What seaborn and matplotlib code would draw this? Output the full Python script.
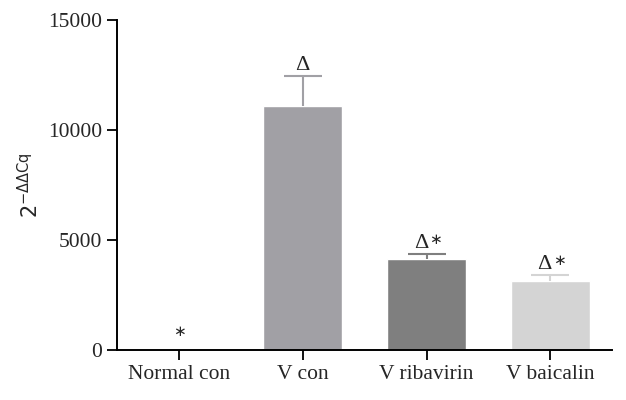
import numpy as np
import pandas as pd
import matplotlib
matplotlib.use("Agg")
import matplotlib.pyplot as plt
import seaborn as sns

groups = ["Normal con", "V con", "V ribavirin", "V baicalin"]
means = [1, 11090, 4140, 3140]
errors = [0, 1360, 220, 270]
deltas = [False, True, True, True]
stars = [True, False, True, True]
colors = ["#ffffff", "#a1a0a5", "#7f7f7f", "#d4d4d4"]

sns.set_style("ticks")
plt.rcParams["font.family"] = ["Liberation Serif", "DejaVu Serif"]
plt.rcParams["mathtext.fontset"] = "dejavusans"

df = pd.DataFrame({"group": groups, "value": means})

fig = plt.figure(figsize=(6.26, 4.0), dpi=100)
ax = fig.add_axes([0.187, 0.125, 0.791, 0.825])

sns.barplot(data=df, x="group", y="value", hue="group", palette=colors,
            legend=False, width=0.64, saturation=1, ax=ax, zorder=2)

# upper-only error bars, same tone as the bar
for i, (m, e, c) in enumerate(zip(means, errors, colors)):
    if e > 0:
        eb = ax.errorbar(i, m, yerr=[[0], [e]], fmt="none", ecolor=c,
                         elinewidth=1.5, capsize=14, capthick=1.5, zorder=3)
        eb[1][0].set_visible(False)
    top = m + e
    if deltas[i] and stars[i]:
        ax.annotate("Δ", (i, top), xytext=(-4, 1), textcoords="offset points",
                    ha="center", va="bottom", fontsize=16)
        ax.annotate("∗", (i, top), xytext=(6.5, 5), textcoords="offset points",
                    ha="center", va="bottom", fontsize=11, family=["DejaVu Sans"])
    elif deltas[i]:
        ax.annotate("Δ", (i, top), xytext=(0, 1), textcoords="offset points",
                    ha="center", va="bottom", fontsize=16)
    else:
        ax.annotate("∗", (i, top), xytext=(0, 8), textcoords="offset points",
                    ha="center", va="bottom", fontsize=11, family=["DejaVu Sans"])

ax.set_xlim(-0.5, 3.5)
ax.set_ylim(0, 15000)
ax.set_yticks([0, 5000, 10000, 15000])
ax.set_xlabel("")
ax.set_ylabel(r"$2^{-\Delta\Delta\mathrm{Cq}}$", fontsize=15, labelpad=4)
ax.tick_params(axis="both", labelsize=15.5, length=7, width=1.3, color="black")
for s in ["left", "bottom"]:
    ax.spines[s].set_linewidth(1.4)
    ax.spines[s].set_color("black")
sns.despine(ax=ax)

fig.savefig("out.png", dpi=100)
